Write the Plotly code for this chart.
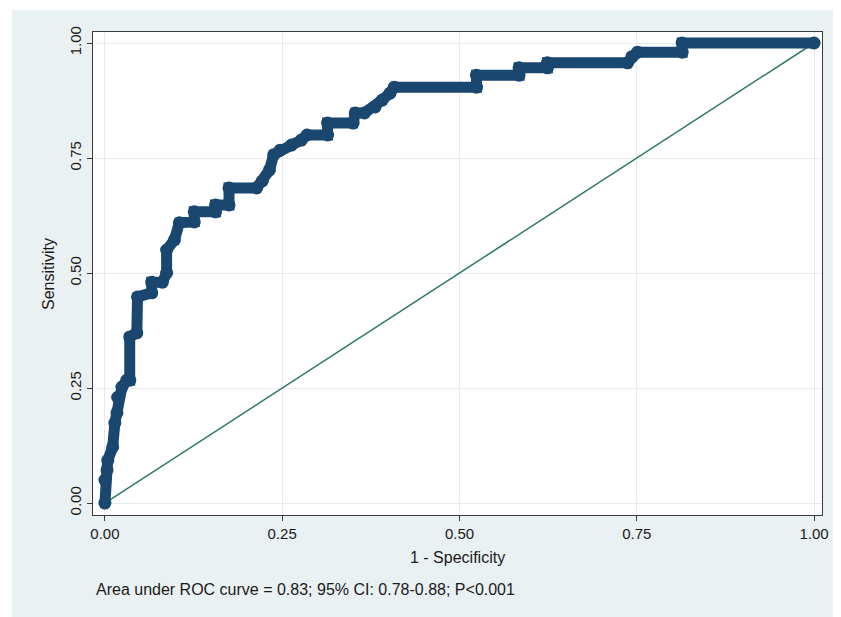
import plotly.graph_objects as go

# ROC curve vertices (1 - specificity, sensitivity)
fpr = [0.000, 0.000, 0.003, 0.004, 0.011, 0.014, 0.017, 0.018, 0.024, 0.031,
       0.035, 0.035, 0.045, 0.046, 0.066, 0.066, 0.081, 0.087, 0.087, 0.098,
       0.105, 0.126, 0.126, 0.156, 0.156, 0.175, 0.175, 0.214, 0.222, 0.232,
       0.238, 0.247, 0.263, 0.277, 0.285, 0.314, 0.314, 0.350, 0.353, 0.366,
       0.381, 0.391, 0.402, 0.408, 0.524, 0.524, 0.584, 0.584, 0.624, 0.624,
       0.737, 0.743, 0.751, 0.814, 0.814, 1.000]
tpr = [0.000, 0.050, 0.072, 0.093, 0.122, 0.174, 0.196, 0.230, 0.252, 0.267,
       0.267, 0.361, 0.370, 0.448, 0.457, 0.480, 0.480, 0.500, 0.550, 0.572,
       0.609, 0.611, 0.633, 0.633, 0.648, 0.648, 0.685, 0.685, 0.700, 0.724,
       0.757, 0.767, 0.778, 0.789, 0.800, 0.800, 0.826, 0.826, 0.848, 0.848,
       0.861, 0.876, 0.891, 0.904, 0.904, 0.930, 0.930, 0.946, 0.946, 0.957,
       0.957, 0.970, 0.980, 0.980, 1.000, 1.000]

ref_x = [0, 1]
ref_y = [0, 1]

tick_vals = [0, 0.25, 0.5, 0.75, 1.0]
tick_text = ["0.00", "0.25", "0.50", "0.75", "1.00"]

x_title = "1 - Specificity"
y_title = "Sensitivity"
note = "Area under ROC curve = 0.83; 95% CI: 0.78-0.88; P<0.001"

NAVY = "#1a476f"
TEAL = "#2e7a68"
PANEL = "#eaf1f3"
FONT = "Liberation Sans, Arial, Helvetica, sans-serif"
TXT = "#1a1a1a"

fig = go.Figure()
fig.add_trace(go.Scatter(x=ref_x, y=ref_y, mode="lines",
                         line=dict(color=TEAL, width=1.5), hoverinfo="skip"))
fig.add_trace(go.Scatter(x=fpr, y=tpr, mode="lines+markers",
                         line=dict(color=NAVY, width=11),
                         marker=dict(color=NAVY, size=13, line=dict(width=0))))

axis_common = dict(
    tickmode="array", tickvals=tick_vals, ticktext=tick_text,
    showgrid=True, gridcolor="#e4ecf0", gridwidth=1.2, zeroline=False,
    showline=True, linecolor="#3a3a3a", linewidth=1.3, mirror=True,
    ticks="outside", ticklen=5, tickcolor="#3a3a3a", tickwidth=1,
    tickfont=dict(family=FONT, size=15, color=TXT),
)

W, H = 833, 609
fig.update_layout(
    width=W, height=H,
    margin=dict(l=85, r=12, t=24, b=102),
    paper_bgcolor=PANEL, plot_bgcolor="white",
    showlegend=False,
    xaxis=dict(range=[-0.0168, 1.0112], **axis_common),
    yaxis=dict(range=[-0.026, 1.0239], tickangle=-90, **axis_common),
    shapes=[
        # thin white page strips above and left of the grey panel
        dict(type="rect", xref="paper", yref="paper",
             x0=-0.13, x1=1.1, y0=(483 + 24) / 483, y1=(483 + 22) / 483,
             fillcolor="white", line=dict(width=0), layer="below"),
        dict(type="rect", xref="paper", yref="paper",
             x0=-0.13, x1=-82 / 736, y0=-0.3, y1=1.1,
             fillcolor="white", line=dict(width=0), layer="below"),
    ],
    annotations=[
        dict(text=x_title, xref="paper", yref="paper", x=0.5, y=-0.087,
             xanchor="center", yanchor="middle", showarrow=False,
             font=dict(family=FONT, size=16, color=TXT)),
        dict(text=y_title, xref="paper", yref="paper", x=-0.0611, y=0.5,
             xanchor="center", yanchor="middle", showarrow=False, textangle=-90,
             font=dict(family=FONT, size=16, color=TXT)),
        dict(text=note, xref="paper", yref="paper", x=0.002, y=-0.155,
             xanchor="left", yanchor="middle", showarrow=False,
             font=dict(family=FONT, size=16, color=TXT)),
    ],
)

fig.write_html("out.html")
